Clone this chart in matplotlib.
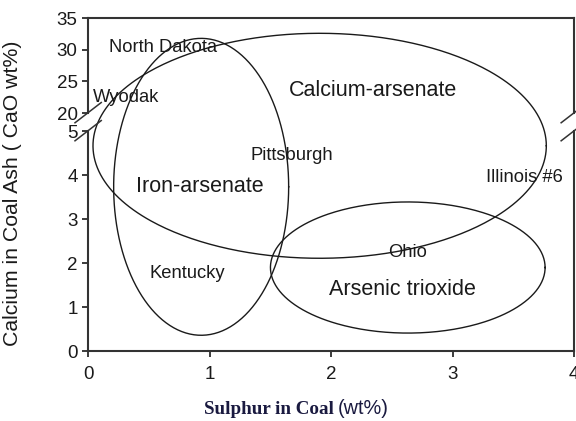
import numpy as np
import matplotlib.pyplot as plt

# break in y axis: 0-5 normal, 20-35 compressed
LOW_TOP = 5.0
HIGH_BOT = 20.0
GAP = 0.41        # scaled height of the gap between 5 and 20
K_HIGH = 0.1439   # scaled units per wt% above the break


def fwd(y):
    y = np.asarray(y, dtype=float)
    mid = LOW_TOP + (y - LOW_TOP) * GAP / (HIGH_BOT - LOW_TOP)
    high = LOW_TOP + GAP + (y - HIGH_BOT) * K_HIGH
    return np.where(y <= LOW_TOP, y, np.where(y >= HIGH_BOT, high, mid))


def inv(s):
    s = np.asarray(s, dtype=float)
    mid = LOW_TOP + (s - LOW_TOP) * (HIGH_BOT - LOW_TOP) / GAP
    high = HIGH_BOT + (s - LOW_TOP - GAP) / K_HIGH
    return np.where(s <= LOW_TOP, s, np.where(s >= LOW_TOP + GAP, high, mid))


# ellipse regions: x-extent and y-extent (wt%)
regions = ['Calcium-arsenate', 'Iron-arsenate', 'Arsenic trioxide']
reg_x0 = [0.04, 0.21, 1.50]
reg_x1 = [3.77, 1.65, 3.76]
reg_y0 = [2.11, 0.36, 0.41]
reg_y1 = [32.6, 31.8, 3.39]
reg_lx = [2.34, 0.92, 2.59]
reg_ly = [23.6, 3.73, 1.39]

# coal names
coals = ['North Dakota', 'Wyodak', 'Pittsburgh', 'Illinois #6', 'Kentucky', 'Ohio']
coal_x = [0.62, 0.31, 1.68, 3.59, 0.82, 2.63]
coal_y = [30.3, 22.5, 4.45, 3.95, 1.77, 2.25]

plt.rcParams['font.family'] = ['Liberation Sans', 'DejaVu Sans']

fig = plt.figure(figsize=(5.76, 4.21), dpi=100)
ax = fig.add_axes([0.153, 0.166, 0.844, 0.791])
ax.set_yscale('function', functions=(fwd, inv))
ax.set_xlim(0, 4)
ax.set_ylim(0, 35)

t = np.linspace(0, 2 * np.pi, 400)
for i in range(len(regions)):
    cx = (reg_x0[i] + reg_x1[i]) / 2
    rx = (reg_x1[i] - reg_x0[i]) / 2
    s0, s1 = fwd(reg_y0[i]), fwd(reg_y1[i])
    cy = (s0 + s1) / 2
    ry = (s1 - s0) / 2
    ax.plot(cx + rx * np.cos(t), inv(cy + ry * np.sin(t)), color='#1a1a1a', lw=1.0)
    ax.text(reg_lx[i], reg_ly[i], regions[i], fontsize=15.5, ha='center', va='center',
            color='#1a1a1a')

for name, x, y in zip(coals, coal_x, coal_y):
    ax.text(x, y, name, fontsize=13.2, ha='center', va='center', color='#1a1a1a')

ax.set_xticks([0, 1, 2, 3, 4])
ax.set_yticks([0, 1, 2, 3, 4, 5, 20, 25, 30, 35])
ax.set_yticklabels(['0', '1', '2', '3', '4', '5', '20', '25', '30', '35'])
ax.tick_params(labelsize=13.5, length=4, width=1.2, direction='out', colors='#1a1a1a')
ax.tick_params(axis='x', pad=7)

# broken left/right spines
ax.spines['left'].set_visible(False)
ax.spines['right'].set_visible(False)
for xa in (0, 1):
    for y0, y1 in ((0, LOW_TOP), (HIGH_BOT, 35)):
        ax.plot([xa, xa], [y0, y1], transform=ax.get_yaxis_transform(), color='#333333',
                lw=1.5, clip_on=False)
    for yb in (LOW_TOP, HIGH_BOT):
        ax.plot([xa - 0.027, xa + 0.027], [inv(fwd(yb) - 0.22), inv(fwd(yb) + 0.24)],
                transform=ax.get_yaxis_transform(), color='#333333', lw=1.1, clip_on=False)
ax.spines['bottom'].set_linewidth(1.5)
ax.spines['top'].set_linewidth(1.5)
ax.spines['bottom'].set_color('#333333')
ax.spines['top'].set_color('#333333')

ax.set_ylabel('Calcium in Coal Ash ( CaO wt%)', fontsize=15.3, color='#1a1a1a')
ax.yaxis.set_label_coords(-0.136, 0.474)

fig.text(0.58, 0.008, 'Sulphur in Coal', family='Liberation Serif', weight='bold',
         fontsize=13.7, ha='right', va='bottom', color='#1a1a40')
fig.text(0.587, 0.008, '(wt%)', fontsize=14.3, ha='left', va='bottom', color='#1a1a40')

fig.savefig('out.png', dpi=100)
